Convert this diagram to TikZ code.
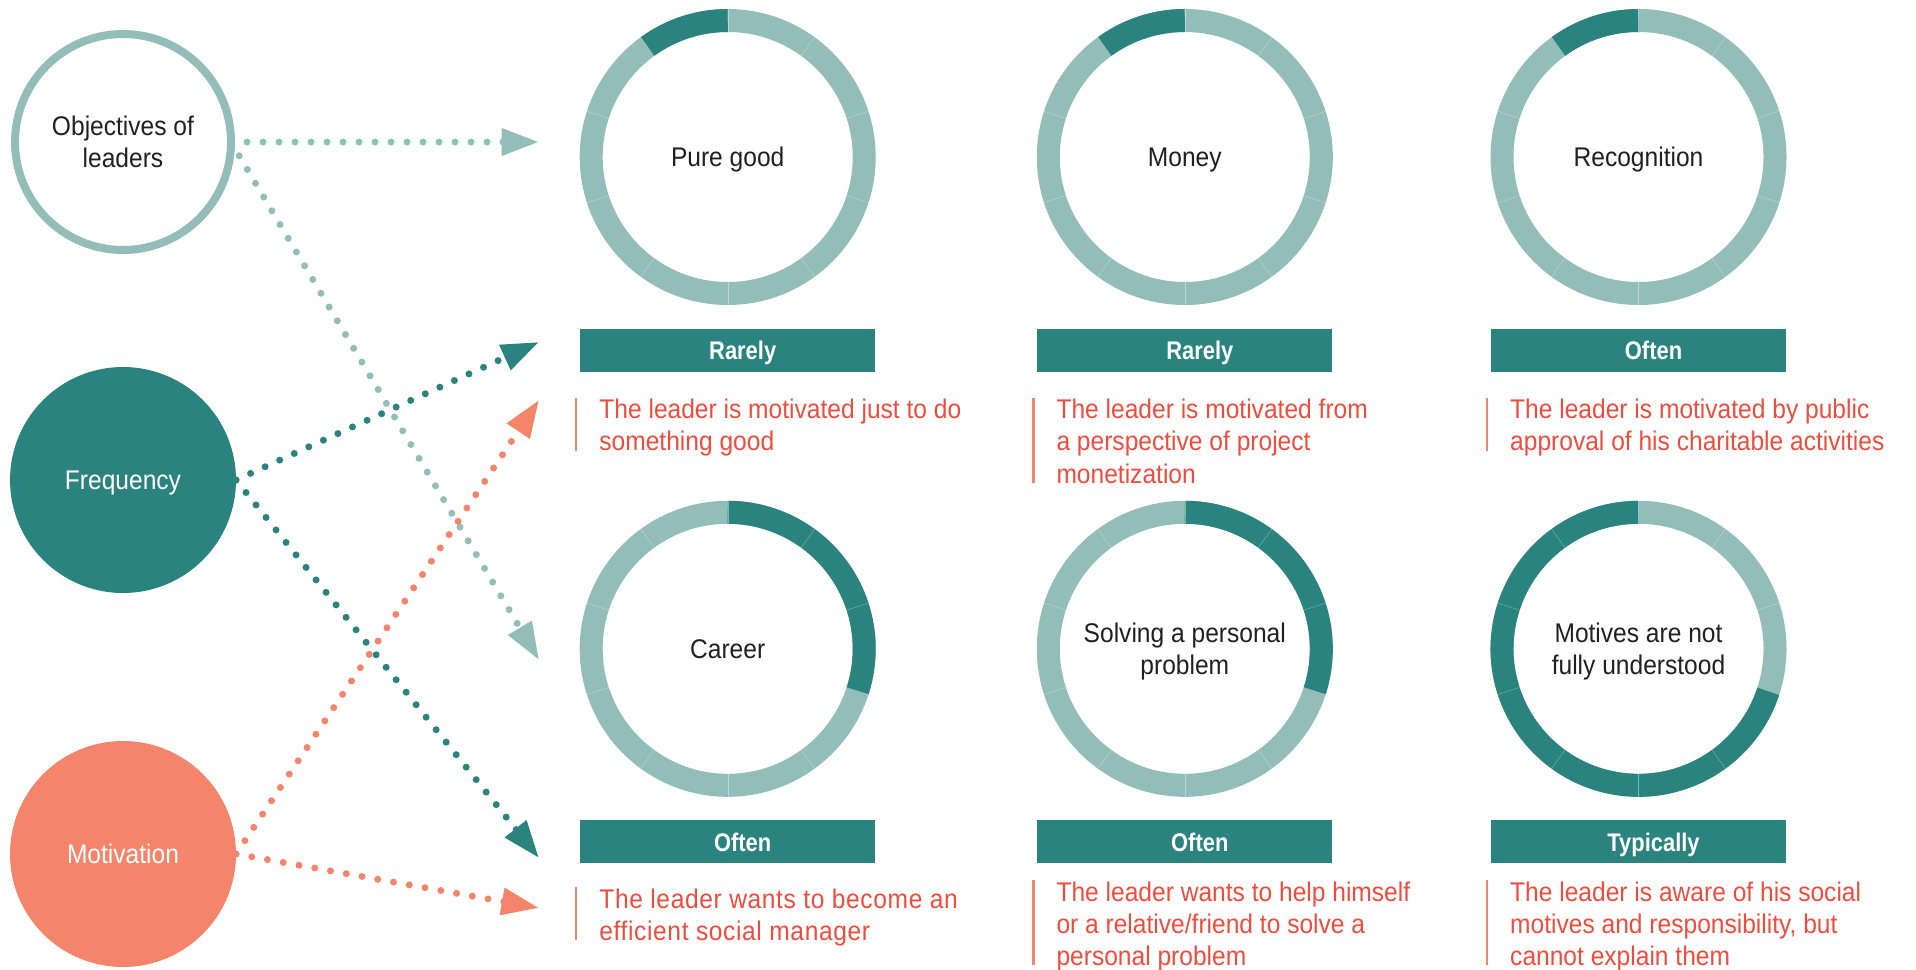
\documentclass[tikz,border=0pt]{standalone}
\usepackage{fontspec}
\setmainfont{Liberation Sans}[FakeStretch=0.91,BoldFeatures={FakeStretch=0.86}]
\usetikzlibrary{positioning,arrows.meta}
\definecolor{paleteal}{HTML}{93BDB9}
\definecolor{deepteal}{HTML}{2A837E}
\definecolor{salmon}{HTML}{F4846A}
\definecolor{redtext}{HTML}{EE4C3D}
\definecolor{inktext}{HTML}{231F20}

\begin{document}
\begin{tikzpicture}[x=1pt,y=1pt,
    font=\fontsize{27}{32.4}\selectfont,
    topic/.style={circle,inner sep=0pt,outer sep=0pt,minimum size=226pt,align=center,text=white,text depth=0pt},
    donut/.style={circle,draw=paleteal,line width=23pt,inner sep=0pt,outer sep=0pt,minimum size=273pt,
        label={[text=inktext,align=center,text depth=0pt]center:#1}},
    hit/.style={deepteal,line width=23pt},
    tick/.style={white,line width=0.4pt,opacity=0.4},
    tag/.style={fill=deepteal,minimum width=295pt,minimum height=43pt,inner sep=0pt,outer sep=0pt,text depth=0pt,
        text=white,font=\fontsize{25.5}{30}\selectfont\bfseries,execute at begin node=\hspace*{30pt}},
    desc/.style={anchor=north west,align=left,inner sep=0pt,text=redtext},
    bar/.style={salmon,line width=2.5pt},
    link/.style={line width=7pt,line cap=round,dash pattern=on 0pt off 16pt,
        -{Triangle[length=37.5pt,width=26pt]}}]
    \useasboundingbox (0,0) rectangle (1916,-969);

    % left column
    \node[topic,draw=paleteal,line width=8pt,minimum size=216pt,text=inktext] (obj) at (123,-142) {Objectives of\\leaders};
    \node[topic,fill=deepteal] (freq) at (123,-480) {Frequency};
    \node[topic,fill=salmon] (motiv) at (123,-854) {Motivation};

    % donuts
    \node[donut={Pure good}] (pure) at (727.7,-157) {};
    \node[donut={Money}] (money) at (1184.8,-157) {};
    \node[donut={Recognition}] (recog) at (1638.5,-157) {};
    \node[donut={Career}] (career) at (727.7,-648.8) {};
    \node[donut={Solving a personal\\problem}] (solve) at (1184.8,-648.8) {};
    \node[donut={Motives are not\\fully understood}] (motives) at (1638.5,-648.8) {};

    \foreach \d in {pure,money,recog}
        \draw[hit] ([shift={(90:136.5)}]\d.center) arc[start angle=90,end angle=126,radius=136.5];
    \foreach \d in {career,solve}
        \draw[hit] ([shift={(90:136.5)}]\d.center) arc[start angle=90,end angle=-18,radius=136.5];
    \draw[hit] ([shift={(-18:136.5)}]motives.center) arc[start angle=-18,end angle=-270,radius=136.5];
    \foreach \d in {pure,money,recog,career,solve,motives}
        \foreach \a in {18,54,...,342}
            \draw[tick] ([shift={(\a:125)}]\d.center) -- ([shift={(\a:148)}]\d.center);

    % frequency tags
    \node[tag,below=35pt of pure] (tpure) {Rarely};
    \node[tag,below=35pt of money] (tmoney) {Rarely};
    \node[tag,below=35pt of recog] (trecog) {Often};
    \node[tag,below=35pt of career] (tcareer) {Often};
    \node[tag,below=35pt of solve] (tsolve) {Often};
    \node[tag,below=35pt of motives] (tmotives) {Typically};

    % motivation texts
    \node[desc] (dpure) at ([shift={(19pt,-27pt)}]tpure.south west) {The leader is motivated just to do\\something good};
    \node[desc] (dmoney) at ([shift={(19pt,-27pt)}]tmoney.south west) {The leader is motivated from\\a perspective of project\\monetization};
    \node[desc] (drecog) at ([shift={(19pt,-27pt)}]trecog.south west) {The leader is motivated by public\\approval of his charitable activities};
    \node[desc,font=\fontsize{27}{32.4}\selectfont\addfontfeature{LetterSpace=2.3}] (dcareer) at ([shift={(19pt,-25pt)}]tcareer.south west) {The leader wants to become an\\efficient social manager};
    \node[desc] (dsolve) at ([shift={(19pt,-18pt)}]tsolve.south west) {The leader wants to help himself\\or a relative/friend to solve a\\personal problem};
    \node[desc] (dmotives) at ([shift={(19pt,-18pt)}]tmotives.south west) {The leader is aware of his social\\motives and responsibility, but\\cannot explain them};
    \foreach \d in {dpure,drecog,dcareer}
        \draw[bar] ([shift={(-23pt,1pt)}]\d.north west) -- ++(0,-53);
    \foreach \d in {dmoney,dsolve,dmotives}
        \draw[bar] ([shift={(-23pt,1pt)}]\d.north west) -- ++(0,-85);

    % arrows
    \coordinate (toPure) at (539,-142);
    \coordinate (toCareer) at (539,-660);
    \coordinate (toRarely) at (539,-342);
    \coordinate (toOften) at (539,-858);
    \coordinate (toDescTop) at (539,-400);
    \coordinate (toDescBottom) at (539,-908);
    \draw[link,paleteal] (obj.east) -- (toPure);
    \draw[link,paleteal] (obj.east) -- (toCareer);
    \draw[link,deepteal] (freq.east) -- (toRarely);
    \draw[link,deepteal] (freq.east) -- (toOften);
    \draw[link,salmon] (motiv.east) -- (toDescTop);
    \draw[link,salmon] (motiv.east) -- (toDescBottom);
\end{tikzpicture}
\end{document}
